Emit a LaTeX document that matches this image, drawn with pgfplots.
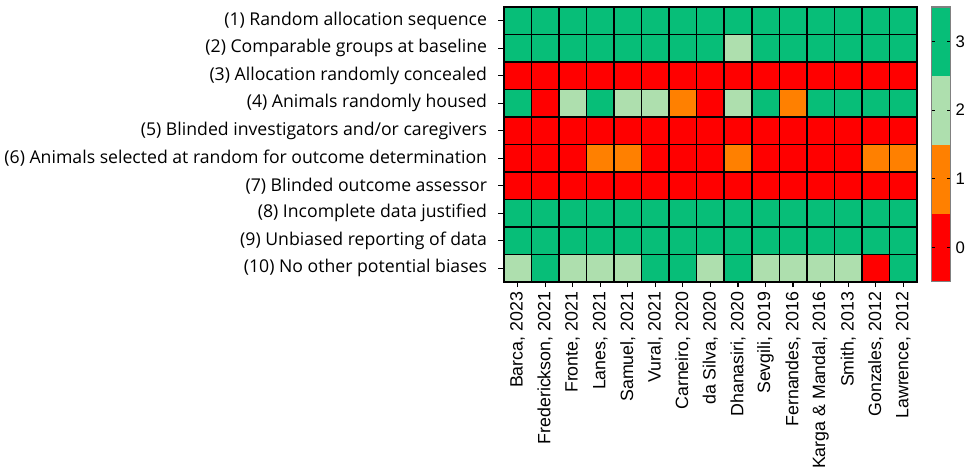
\documentclass[border=0pt]{standalone}
\usepackage{pgfplots}
\pgfplotsset{compat=1.18}
\usepackage{fontspec}
\setmainfont{Liberation Sans}
\newfontfamily\labfont{Open Sans}
\begin{document}
\begin{tikzpicture}
\begin{axis}[
  width=309pt, height=205.5pt, scale only axis,
  xmin=-0.5, xmax=14.5, ymin=-0.5, ymax=9.5, y dir=reverse,
  xtick={0,...,14}, ytick={0,...,9},
  xticklabels={{Barca, 2023},{Frederickson, 2021},{Fronte, 2021},{Lanes, 2021},{Samuel, 2021},{Vural, 2021},{Carneiro, 2020},{da Silva, 2020},{Dhanasiri, 2020},{Sevgili, 2019},{Fernandes, 2016},{Karga \& Mandal, 2016},{Smith, 2013},{Gonzales, 2012},{Lawrence, 2012}},
  yticklabels={{(1) Random allocation sequence},{(2) Comparable groups at baseline},{(3) Allocation randomly concealed},{(4) Animals randomly housed},{(5) Blinded investigators and/or caregivers},{(6) Animals selected at random for outcome determination},{(7) Blinded outcome assessor},{(8) Incomplete data justified},{(9) Unbiased reporting of data},{(10) No other potential biases}},
  x tick label style={rotate=90, anchor=east, font=\fontsize{13.3}{15}\selectfont},
  y tick label style={font=\labfont\fontsize{13.2}{15}\selectfont, xshift=-5pt},
  tick align=outside, xtick pos=bottom, ytick pos=left, major tick length=4pt,
  tick style={black, line width=0.9pt},
  minor xtick={0.5,1.5,...,13.5}, minor ytick={0.5,1.5,...,8.5}, minor tick length=0pt,
  xminorgrids, yminorgrids, minor grid style={black, line width=1.2pt},
  axis on top, axis line style={black, line width=1.2pt},
  colormap={rob}{rgb255=(255,0,0) rgb255=(255,128,0) rgb255=(174,223,174) rgb255=(7,190,120)},
  colormap access=piecewise constant,
  point meta min=-0.5, point meta max=3.5,
  colorbar,
  colorbar style={at={(parent axis.north east)}, anchor=north west, xshift=2.2pt, width=14.5pt,
    ytick={0,1,2,3}, ytick pos=both, yticklabel pos=right, tick align=inside, major tick length=3pt,
    tick style={black, line width=0.6pt}, axis line style={gray, line width=0.8pt},
    yticklabel style={font=\fontsize{12.5}{14}\selectfont},
    /pgf/number format/assume math mode=true},
  /pgf/number format/assume math mode=true,
]
\addplot[matrix plot*, mesh/cols=15, mesh/ordering=x varies, point meta=explicit] table[meta=c] {
x y c
0 0 3
1 0 3
2 0 3
3 0 3
4 0 3
5 0 3
6 0 3
7 0 3
8 0 3
9 0 3
10 0 3
11 0 3
12 0 3
13 0 3
14 0 3
0 1 3
1 1 3
2 1 3
3 1 3
4 1 3
5 1 3
6 1 3
7 1 3
8 1 2
9 1 3
10 1 3
11 1 3
12 1 3
13 1 3
14 1 3
0 2 0
1 2 0
2 2 0
3 2 0
4 2 0
5 2 0
6 2 0
7 2 0
8 2 0
9 2 0
10 2 0
11 2 0
12 2 0
13 2 0
14 2 0
0 3 3
1 3 0
2 3 2
3 3 3
4 3 2
5 3 2
6 3 1
7 3 0
8 3 2
9 3 3
10 3 1
11 3 3
12 3 3
13 3 3
14 3 3
0 4 0
1 4 0
2 4 0
3 4 0
4 4 0
5 4 0
6 4 0
7 4 0
8 4 0
9 4 0
10 4 0
11 4 0
12 4 0
13 4 0
14 4 0
0 5 0
1 5 0
2 5 0
3 5 1
4 5 1
5 5 0
6 5 0
7 5 0
8 5 1
9 5 0
10 5 0
11 5 0
12 5 0
13 5 1
14 5 1
0 6 0
1 6 0
2 6 0
3 6 0
4 6 0
5 6 0
6 6 0
7 6 0
8 6 0
9 6 0
10 6 0
11 6 0
12 6 0
13 6 0
14 6 0
0 7 3
1 7 3
2 7 3
3 7 3
4 7 3
5 7 3
6 7 3
7 7 3
8 7 3
9 7 3
10 7 3
11 7 3
12 7 3
13 7 3
14 7 3
0 8 3
1 8 3
2 8 3
3 8 3
4 8 3
5 8 3
6 8 3
7 8 3
8 8 3
9 8 3
10 8 3
11 8 3
12 8 3
13 8 3
14 8 3
0 9 2
1 9 3
2 9 2
3 9 2
4 9 2
5 9 3
6 9 3
7 9 2
8 9 3
9 9 2
10 9 2
11 9 2
12 9 2
13 9 0
14 9 3
};
\end{axis}
\path ([yshift=5.25pt]current axis.north);
\path (current bounding box.east) ++(3.5pt,0);
\end{tikzpicture}
\end{document}
